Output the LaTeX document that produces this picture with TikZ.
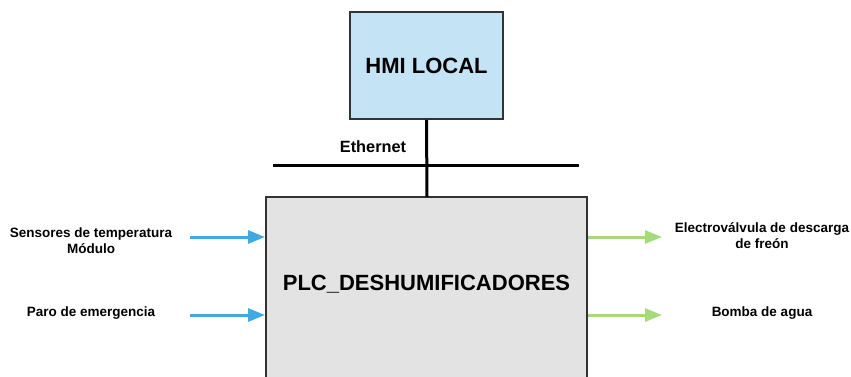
\documentclass[tikz,border=0pt]{standalone}
\usepackage{fontspec}
\setmainfont{Liberation Sans}
\usetikzlibrary{arrows.meta}
\definecolor{hmiblue}{HTML}{C4E3F5}
\definecolor{plcgray}{HTML}{E3E3E3}
\definecolor{boxedge}{HTML}{333333}
\definecolor{inblue}{HTML}{3FA9E1}
\definecolor{outgreen}{HTML}{A5DB7C}
\tikzset{
  blockbox/.style={draw=boxedge, line width=1.8pt, inner sep=0pt},
  bus/.style={line width=3pt, black},
  inarrow/.style={draw=inblue, line width=3pt, -{Triangle[length=17pt,width=13pt]}},
  outarrow/.style={draw=outgreen, line width=3pt, -{Triangle[length=17pt,width=13pt]}},
  sig/.style={font=\bfseries\fontsize{13.5}{15.5}\selectfont, align=center, inner sep=0pt},
}
\begin{document}
\begin{tikzpicture}[x=1pt,y=-1pt]
\useasboundingbox (0,0) rectangle (851,377);
% PLC block, running past the lower edge
\path[fill=plcgray] (266,197) rectangle (587,390);
\draw[blockbox] (266,392) -- (266,197) -- (587,197) -- (587,392);
\node[inner sep=0pt, font=\bfseries\fontsize{22}{26}\selectfont] (plc) at (426.5,284) {PLC\_DESHUMIFICADORES};
\coordinate (plctop) at (427,197);
% HMI panel
\node[blockbox, fill=hmiblue, minimum width=153pt, minimum height=107pt, font=\bfseries\fontsize{22}{26}\selectfont] (hmi) at (426.5,65.5) {HMI LOCAL};
% Ethernet bus
\coordinate (busL) at (273,165);
\coordinate (busR) at (579,165);
\draw[bus] (busL) -- (busR);
\draw[bus] (hmi.south) -- (plctop);
\node[font=\bfseries\fontsize{16.3}{18}\selectfont, inner sep=0pt] (eth) at (373,147) {Ethernet};
% inputs
\coordinate (in1) at (265,237);
\coordinate (in2) at (265,315);
\coordinate (in1s) at (190,237);
\coordinate (in2s) at (190,315);
\draw[inarrow] (in1s) -- (in1);
\draw[inarrow] (in2s) -- (in2);
\node[sig] (lab1) at (91,240.5) {Sensores de temperatura\\Módulo};
\node[sig] (lab2) at (91,313.5) {Paro de emergencia};
% outputs
\coordinate (out1) at (588,237);
\coordinate (out2) at (588,315);
\coordinate (out1e) at (662,237);
\coordinate (out2e) at (662,315);
\draw[outarrow] (out1) -- (out1e);
\draw[outarrow] (out2) -- (out2e);
\node[sig] (lab3) at (762,235.5) {Electroválvula de descarga\\de freón};
\node[sig] (lab4) at (762,313.5) {Bomba de agua};
\end{tikzpicture}
\end{document}
